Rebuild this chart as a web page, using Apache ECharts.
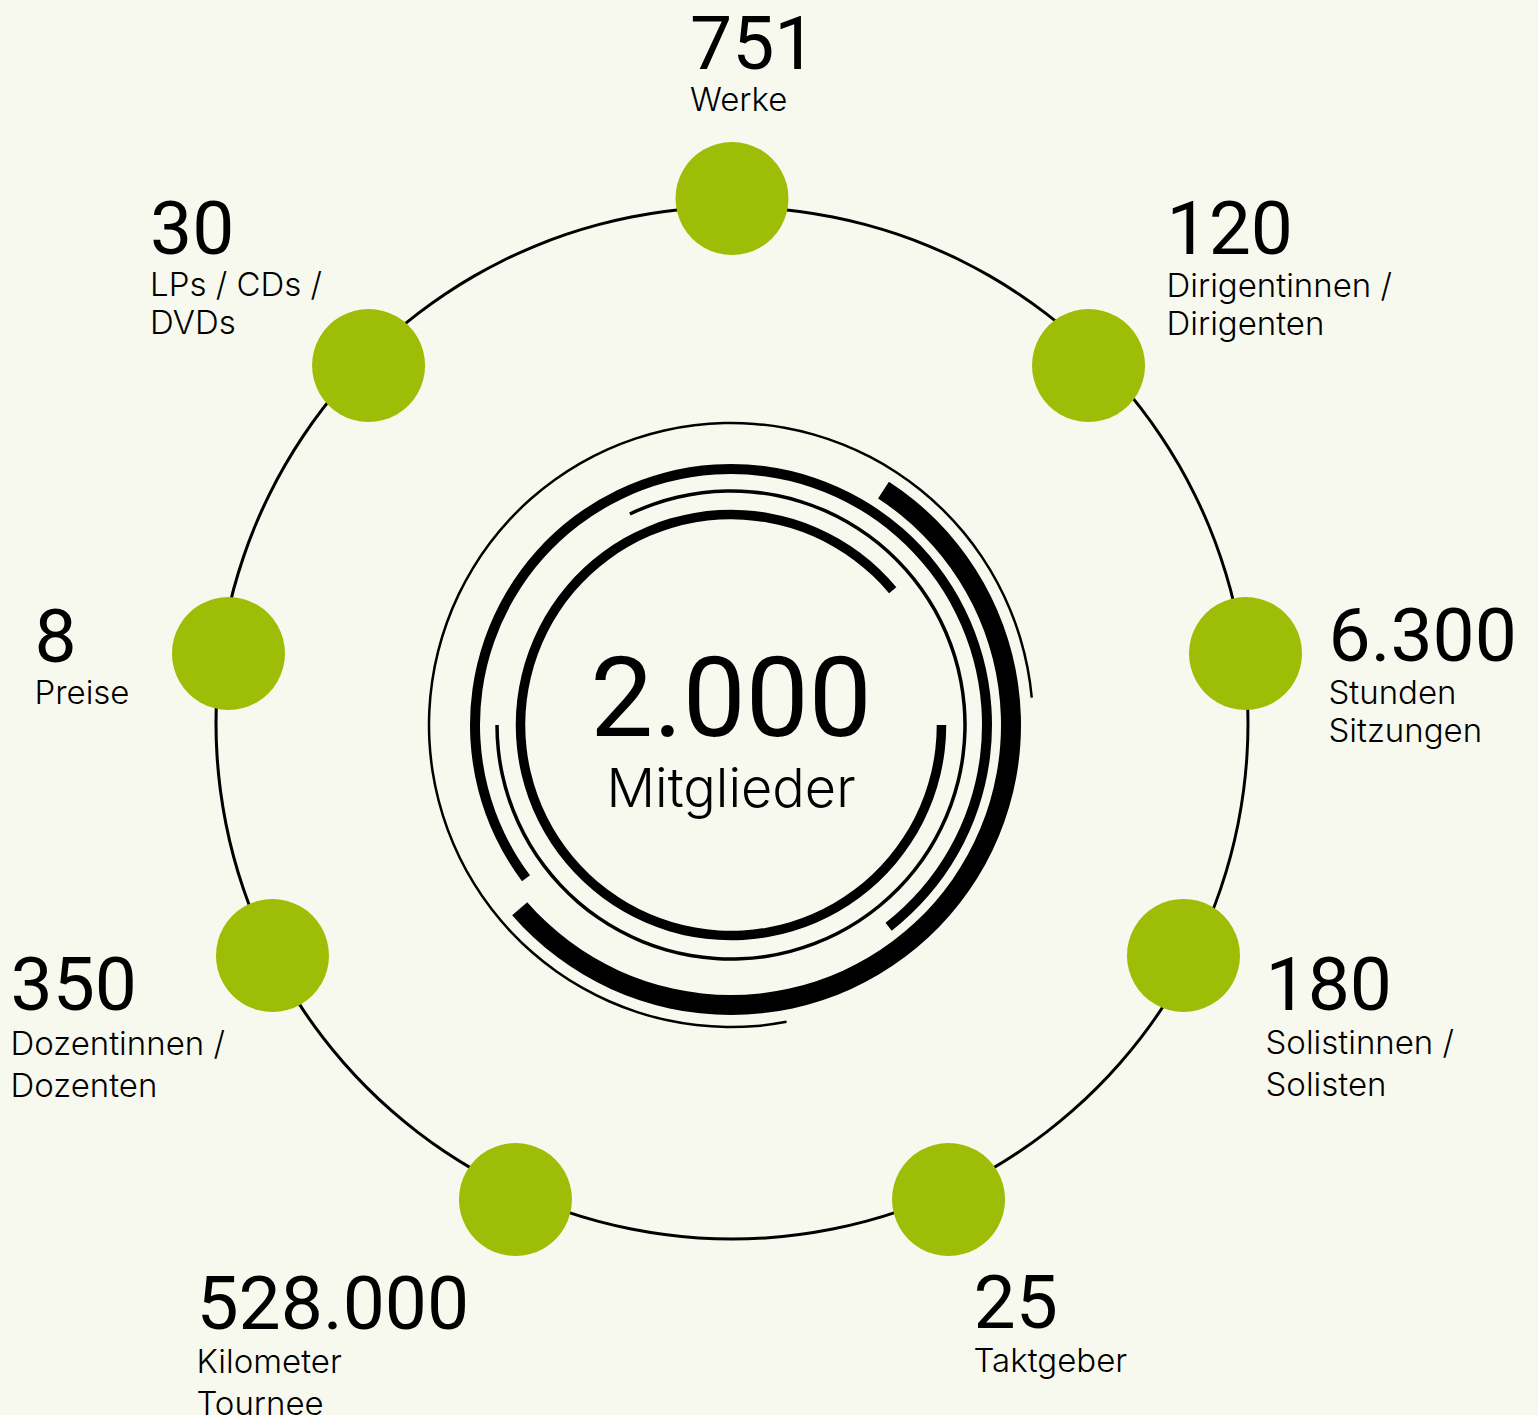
<!DOCTYPE html>
<html>
<head>
<meta charset="utf-8">
<script src="https://cdn.jsdelivr.net/npm/echarts@6/dist/echarts.min.js"></script>
<style>
html,body{margin:0;padding:0;background:#f7f9ee;}
#chart{width:1538px;height:1415px;}
</style>
</head>
<body>
<div id="chart"></div>
<script>
// ---------- data ----------
const categories = [
  'Werke',
  'Dirigentinnen /\nDirigenten',
  'Stunden\nSitzungen',
  'Solistinnen /\nSolisten',
  'Taktgeber',
  'Kilometer\nTournee',
  'Dozentinnen /\nDozenten',
  'Preise',
  'LPs / CDs /\nDVDs'
];
const values = [751, 120, 6300, 180, 25, 528000, 350, 8, 30];
const centerValue = 2000;
const centerLabel = 'Mitglieder';

// ---------- layout (positions only, no data) ----------
const dotAngle  = [90, 45.08, 7.71, 332.76, 294.44, 245.56, 206.84, 172.14, 135.47];
const dotRadius = [524.5, 504.9, 518.2, 507.8, 523.4, 523.4, 515.0, 508.3, 509.8];
const labelOffset = [[-42,-193.5],[78,-174.7],[83,-55.5],[82,-9],[25,64.5],[-319,65.5],[-262,-8.8],[-194,-55],[-218.5,-175]];
const labelStyleKey = ['l','l','l','m','m','m','m','l','l'];
// decorative rings around the centre: radius (stroke centre), width, start/end angle (clockwise)
const ringR     = [210.5, 234, 256, 280, 302];
const ringW     = [9.5, 3.5, 10, 20, 2.5];
const ringStart = [0, 115.6, 216.8, 57, 280.6];
const ringEnd   = [-320.2, -180, -52, -139, 5.2];

const GREEN = '#9dbd06';
const BG = '#f7f9ee';
const DOT = 113;
const POLAR_R = 540;

function fmt(n){ return String(n).replace(/\B(?=(\d{3})+(?!\d))/g, '.'); }

const chart = echarts.init(document.getElementById('chart'), null, {renderer:'svg'});

function hiddenGauge(extra){
  return Object.assign({
    type:'gauge', silent:true, animation:false,
    axisTick:{show:false}, splitLine:{show:false}, axisLabel:{show:false},
    pointer:{show:false}, progress:{show:false}, anchor:{show:false},
    title:{show:false}, detail:{show:false}, data:[]
  }, extra);
}

const series = [];
// big outer circle
series.push(hiddenGauge({
  center:[732,723], radius:517.5, startAngle:90, endAngle:-270,
  axisLine:{show:true, lineStyle:{width:3, color:[[1,'#000']]}}
}));
// inner rings
ringR.forEach((r,i)=>{
  const g = hiddenGauge({
    center:[731,725], radius:r + ringW[i]/2, startAngle:ringStart[i], endAngle:ringEnd[i],
    axisLine:{show:true, roundCap:false, lineStyle:{width:ringW[i], color:[[1,'#000']]}}
  });
  if(i===0){
    g.min = 0; g.max = centerValue;
    g.data = [{value:centerValue, name:centerLabel}];
    g.title = {show:true, offsetCenter:[0,62], fontSize:54, fontFamily:'Inter', fontWeight:300, color:'#000'};
    g.detail = {show:true, offsetCenter:[0,-28], fontSize:112, fontFamily:'Roboto', fontWeight:400, color:'#000',
      formatter:(v)=>fmt(v), valueAnimation:false};
  }
  series.push(g);
});
// dots with labels
series.push({
  type:'scatter', coordinateSystem:'polar', symbol:'circle', symbolSize:DOT, z:5,
  animation:false, silent:true, clip:false,
  itemStyle:{color:GREEN, opacity:1},
  data: values.map((v,i)=>({
    value:[dotRadius[i], dotAngle[i]],
    label:{
      show:true,
      position:[labelOffset[i][0] + DOT/2, labelOffset[i][1] + DOT/2],
      formatter: ()=> '{n|' + fmt(v) + '}\n' + categories[i].split('\n').map(s=>'{'+labelStyleKey[i]+'|'+s+'}').join('\n')
    }
  })),
  label:{
    show:true, color:'#000',
    rich:{
      n:{fontSize:75, lineHeight:75, fontFamily:'Roboto', fontWeight:400, color:'#000'},
      l:{fontSize:33, lineHeight:38, fontFamily:'Inter', fontWeight:300, color:'#000'},
      m:{fontSize:33, lineHeight:42, fontFamily:'Inter', fontWeight:300, color:'#000'}
    }
  }
});

chart.setOption({
  backgroundColor:BG,
  animation:false,
  polar:{center:[732,723], radius:POLAR_R},
  angleAxis:{type:'value', min:0, max:360, startAngle:0, clockwise:false, show:false},
  radiusAxis:{type:'value', min:0, max:POLAR_R, show:false},
  series
});
</script>
</body>
</html>
